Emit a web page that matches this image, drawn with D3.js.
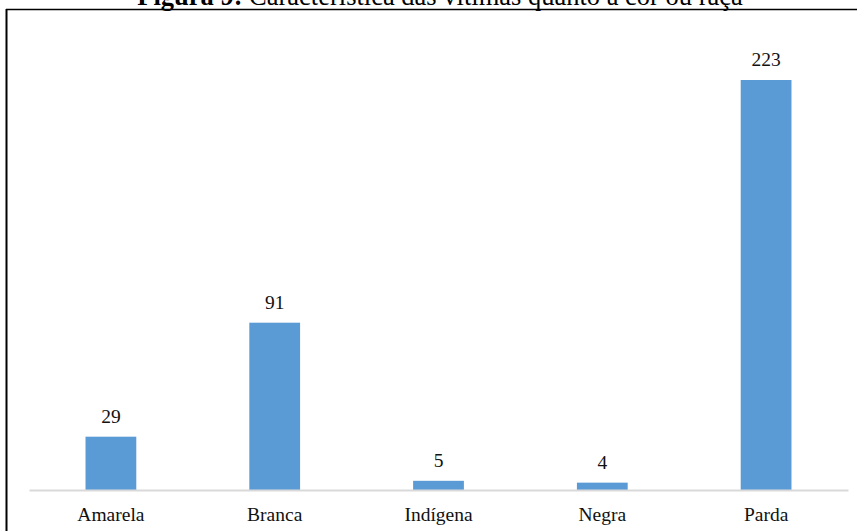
<!DOCTYPE html>
<html><head><meta charset="utf-8">
<script src="https://cdn.jsdelivr.net/npm/d3@7"></script>
<style>body{margin:0;background:#fff}svg{display:block}</style>
</head><body>
<svg id="c" width="857" height="531"></svg>
<script>
const categories = ["Amarela","Branca","Indígena","Negra","Parda"];
const values = [29, 91, 5, 4, 223];
const titleBold = "Figura 9:";
const titleRest = " Característica das vítimas quanto à cor ou raça";

const svg = d3.select("#c");
const W = 857, H = 531;
const font = "'Liberation Serif','Times New Roman',serif";

// frame
svg.append("line").attr("x1",6).attr("x2",W).attr("y1",9.5).attr("y2",9.5).attr("stroke","#000").attr("stroke-width",1.5);
svg.append("line").attr("x1",6.5).attr("x2",6.5).attr("y1",9).attr("y2",H).attr("stroke","#000").attr("stroke-width",2);

// title (cut at top, as in the source figure)
const t = svg.append("text").attr("x",440).attr("y",5).attr("text-anchor","middle")
  .attr("font-family",font).attr("font-size",26.5).attr("fill","#000");
t.append("tspan").attr("font-weight","bold").text(titleBold);
t.append("tspan").text(titleRest);

const x = d3.scaleBand().domain(categories).range([29, 848]).paddingInner(0.69).paddingOuter(0.345);
const y = d3.scaleLinear().domain([0, 223]).range([490, 80]);

svg.append("g").selectAll("rect").data(values).join("rect")
  .attr("x",(d,i)=>x(categories[i])).attr("width",x.bandwidth())
  .attr("y",d=>y(d)).attr("height",d=>y(0)-y(d)).attr("fill","#5B9BD5");

const ax = svg.append("g").attr("transform","translate(0,490)").call(d3.axisBottom(x).tickSize(0).tickPadding(17));
ax.select(".domain").attr("stroke","#D9D9D9").attr("stroke-width",2);
ax.selectAll("text").attr("font-family",font).attr("font-size",19.5).attr("fill","#111").attr("dy","0.71em");

svg.append("g").selectAll("text").data(values).join("text")
  .attr("x",(d,i)=>x(categories[i])+x.bandwidth()/2).attr("y",d=>y(d)-14)
  .attr("text-anchor","middle").attr("font-family",font).attr("font-size",19.5).attr("fill","#111")
  .text(d=>d);
</script>
</body></html>
